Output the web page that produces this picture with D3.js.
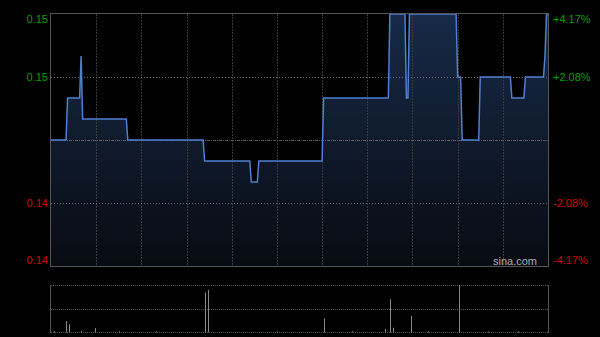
<!DOCTYPE html>
<html>
<head>
<meta charset="utf-8">
<script src="https://cdn.jsdelivr.net/npm/d3@7"></script>
<style>
  html, body { margin: 0; padding: 0; background: #000; }
  svg { display: block; font-family: "Liberation Sans", Arial, sans-serif; }
</style>
</head>
<body>
<svg width="600" height="337"></svg>
<script>
// minute index (0 = 9:30, 330 = 16:00) and price at the points where the line turns
var priceMinutes = [0, 10, 11, 19, 20, 21, 50, 51, 101, 102, 132, 133, 137, 138,
                    180, 181, 224, 225, 235, 236, 237, 238, 269, 270, 272, 273,
                    284, 285, 305, 306, 314, 315, 327, 328, 329, 330];
var prices = [0.144, 0.144, 0.146, 0.146, 0.148, 0.145, 0.145, 0.144, 0.144, 0.143, 0.143, 0.142, 0.142, 0.143,
              0.143, 0.146, 0.146, 0.150, 0.150, 0.146, 0.146, 0.150, 0.150, 0.147, 0.147, 0.144,
              0.144, 0.147, 0.147, 0.146, 0.146, 0.147, 0.147, 0.148, 0.150, 0.150];

var prevClose = 0.144;
var leftLabels = ["0.15", "0.15", "0.14", "0.14"];
var rightLabels = ["+4.17%", "+2.08%", "-2.08%", "-4.17%"];
var labelLevels = [0.150, 0.147, 0.141, 0.138];

// volume (thousand shares)
var volMinutes = [2, 10, 12, 20, 29, 45, 70, 102, 104, 150, 181, 200, 222, 225, 227, 239, 250, 271, 290, 310];
var volumes = [10, 110, 80, 10, 40, 8, 6, 395, 420, 6, 137, 8, 30, 327, 43, 160, 8, 470, 6, 8];

function main(){
    var svg = d3.select("svg");
    var left = 51, right = 548, top = 14, bottom = 266;
    var vTop = 285, vBottom = 332;

    var x = d3.scaleLinear().domain([0, 330]).range([left, right]);
    var y = d3.scaleLinear().domain([0.138, 0.150]).range([bottom, top]);
    var yv = d3.scaleLinear().domain([0, d3.max(volumes)]).range([vBottom, vTop]);

    var defs = svg.append("defs");
    var grad = defs.append("linearGradient")
        .attr("id", "fillGrad")
        .attr("x1", 0).attr("y1", 0).attr("x2", 0).attr("y2", 1);
    grad.append("stop").attr("offset", "0%").attr("stop-color", "#172a48");
    grad.append("stop").attr("offset", "100%").attr("stop-color", "#080b12");

    var pts = priceMinutes.map(function(m, i){ return [m, prices[i]]; });

    // area
    svg.append("path")
        .datum(pts)
        .attr("fill", "url(#fillGrad)")
        .attr("d", d3.area()
            .x(function(d){ return x(d[0]); })
            .y0(bottom)
            .y1(function(d){ return y(d[1]); }));

    // vertical grid every 30 minutes
    var vt = d3.range(30, 330, 30);
    svg.append("g").selectAll("line")
        .data(vt).enter().append("line")
        .attr("x1", function(d){ return Math.round(x(d)) + 0.5; })
        .attr("x2", function(d){ return Math.round(x(d)) + 0.5; })
        .attr("y1", top).attr("y2", bottom)
        .attr("stroke", "#3a3a3a")
        .attr("stroke-dasharray", "2,1");

    // horizontal grid
    svg.append("g").selectAll("line")
        .data([0.147, 0.141]).enter().append("line")
        .attr("x1", left).attr("x2", right)
        .attr("y1", function(d){ return Math.round(y(d)) + 0.5; })
        .attr("y2", function(d){ return Math.round(y(d)) + 0.5; })
        .attr("stroke", "#666")
        .attr("stroke-dasharray", "1,2");

    svg.append("line")
        .attr("x1", left).attr("x2", right)
        .attr("y1", Math.round(y(prevClose)) + 0.5)
        .attr("y2", Math.round(y(prevClose)) + 0.5)
        .attr("stroke", "#5a5a5a")
        .attr("stroke-dasharray", "3,1,1,1");

    // price line
    svg.append("path")
        .datum(pts)
        .attr("fill", "none")
        .attr("stroke", "#4f7fd2")
        .attr("stroke-width", 1.5)
        .attr("d", d3.line()
            .x(function(d){ return x(d[0]); })
            .y(function(d){ return y(d[1]); }));

    // frame
    svg.append("rect")
        .attr("x", left - 0.5).attr("y", top - 0.5)
        .attr("width", right - left + 1).attr("height", bottom - top + 1)
        .attr("fill", "none")
        .attr("stroke", "#555");

    // labels
    var lab = svg.append("g").attr("font-size", "11px");
    labelLevels.forEach(function(v, i){
        var yy = y(v);
        if (i === 0) yy += 5;
        if (i === 3) yy -= 6;
        var col = v > prevClose ? "#00a000" : "#d40000";
        lab.append("text")
            .attr("x", 48).attr("y", yy)
            .attr("dy", "0.35em")
            .attr("text-anchor", "end")
            .attr("fill", col)
            .text(leftLabels[i]);
        lab.append("text")
            .attr("x", 553).attr("y", yy)
            .attr("dy", "0.35em")
            .attr("fill", col)
            .text(rightLabels[i]);
    });

    svg.append("text")
        .attr("x", 537).attr("y", 265)
        .attr("text-anchor", "end")
        .attr("font-size", "11px")
        .attr("fill", "#aaa")
        .text("sina.com");

    // volume panel
    svg.append("g").selectAll("line")
        .data([vTop, (vTop + vBottom) / 2, vBottom]).enter().append("line")
        .attr("x1", left).attr("x2", right)
        .attr("y1", function(d){ return Math.round(d) + 0.5; })
        .attr("y2", function(d){ return Math.round(d) + 0.5; })
        .attr("stroke", "#555")
        .attr("stroke-dasharray", "1,1");

    svg.append("g").selectAll("line")
        .data([left - 0.5, right + 0.5]).enter().append("line")
        .attr("x1", function(d){ return d; }).attr("x2", function(d){ return d; })
        .attr("y1", vTop).attr("y2", vBottom + 1)
        .attr("stroke", "#555");

    svg.append("g").selectAll("line")
        .data(volMinutes).enter().append("line")
        .attr("x1", function(d){ return Math.round(x(d)) + 0.5; })
        .attr("x2", function(d){ return Math.round(x(d)) + 0.5; })
        .attr("y1", vBottom + 0.5)
        .attr("y2", function(d, i){ return yv(volumes[i]); })
        .attr("stroke", "#888");
}
main();
</script>
</body>
</html>
